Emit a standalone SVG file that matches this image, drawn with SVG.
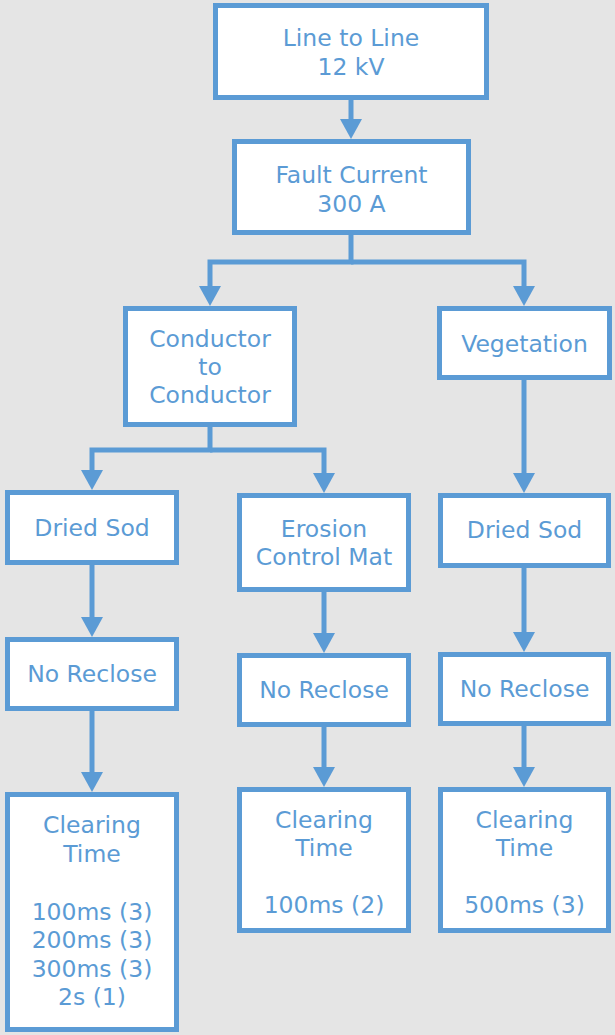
<svg xmlns="http://www.w3.org/2000/svg" width="615" height="1035" viewBox="0 0 615 1035">
<style>
.box{fill:#ffffff;stroke:#5b9bd5;stroke-width:5}
.t{font-family:"DejaVu Sans",Verdana,sans-serif;font-size:23.5px;fill:#5b9bd5;text-anchor:middle}
.c{fill:none;stroke:#5b9bd5;stroke-width:5;marker-end:url(#ah)}
</style>
<defs>
<marker id="ah" markerUnits="userSpaceOnUse" viewBox="0 0 20 22" refX="10" refY="11" markerWidth="20" markerHeight="22" orient="auto">
<path d="M0,0 L20,11 L0,22 z" fill="#5b9bd5"/>
</marker>
</defs>
<rect x="0" y="0" width="615" height="1035" fill="#e5e5e5"/>
<g id="connectors">
<path class="c" d="M351,100 V129"/>
<path class="c" d="M351,235 V262 H210 V296"/>
<path class="c" d="M351,262 H524 V296"/>
<path class="c" d="M210,427 V450 H92 V480"/>
<path class="c" d="M210,450 H324 V483"/>
<path class="c" d="M524,380 V483"/>
<path class="c" d="M92,565 V627"/>
<path class="c" d="M324,592 V643"/>
<path class="c" d="M524,568 V642"/>
<path class="c" d="M92,711 V782"/>
<path class="c" d="M324,727 V777"/>
<path class="c" d="M524,726 V777"/>
</g>
<g id="n-line">
<rect class="box" x="215.5" y="5.5" width="271" height="92"/>
<text class="t" x="351" y="46">Line to Line</text>
<text class="t" x="351" y="75">12 kV</text>
</g>
<g id="n-fault">
<rect class="box" x="234.5" y="141.5" width="234" height="91"/>
<text class="t" x="351.5" y="183">Fault Current</text>
<text class="t" x="351.5" y="212">300 A</text>
</g>
<g id="n-cond">
<rect class="box" x="125.5" y="308.5" width="169" height="116"/>
<text class="t" x="210" y="347">Conductor</text>
<text class="t" x="210" y="375">to</text>
<text class="t" x="210" y="403">Conductor</text>
</g>
<g id="n-veg">
<rect class="box" x="439.5" y="308.5" width="170" height="69"/>
<text class="t" x="524.5" y="352">Vegetation</text>
</g>
<g id="n-sod1">
<rect class="box" x="7.5" y="492.5" width="169" height="70"/>
<text class="t" x="92" y="536">Dried Sod</text>
</g>
<g id="n-erosion">
<rect class="box" x="239.5" y="495.5" width="169" height="94"/>
<text class="t" x="324" y="537">Erosion</text>
<text class="t" x="324" y="565">Control Mat</text>
</g>
<g id="n-sod2">
<rect class="box" x="440.5" y="495.5" width="168" height="70"/>
<text class="t" x="524.5" y="538">Dried Sod</text>
</g>
<g id="n-rec1">
<rect class="box" x="7.5" y="639.5" width="169" height="69"/>
<text class="t" x="92" y="682">No Reclose</text>
</g>
<g id="n-rec2">
<rect class="box" x="239.5" y="655.5" width="169" height="69"/>
<text class="t" x="324" y="698">No Reclose</text>
</g>
<g id="n-rec3">
<rect class="box" x="440.5" y="654.5" width="168" height="69"/>
<text class="t" x="524.5" y="697">No Reclose</text>
</g>
<g id="n-clr1">
<rect class="box" x="7.5" y="794.5" width="169" height="235"/>
<text class="t" x="92" y="833">Clearing</text>
<text class="t" x="92" y="862">Time</text>
<text class="t" x="92" y="920">100ms (3)</text>
<text class="t" x="92" y="948">200ms (3)</text>
<text class="t" x="92" y="977">300ms (3)</text>
<text class="t" x="92" y="1005">2s (1)</text>
</g>
<g id="n-clr2">
<rect class="box" x="239.5" y="789.5" width="169" height="141"/>
<text class="t" x="324" y="828">Clearing</text>
<text class="t" x="324" y="856">Time</text>
<text class="t" x="324" y="913">100ms (2)</text>
</g>
<g id="n-clr3">
<rect class="box" x="440.5" y="789.5" width="168" height="141"/>
<text class="t" x="524.5" y="828">Clearing</text>
<text class="t" x="524.5" y="856">Time</text>
<text class="t" x="524.5" y="913">500ms (3)</text>
</g>
</svg>
